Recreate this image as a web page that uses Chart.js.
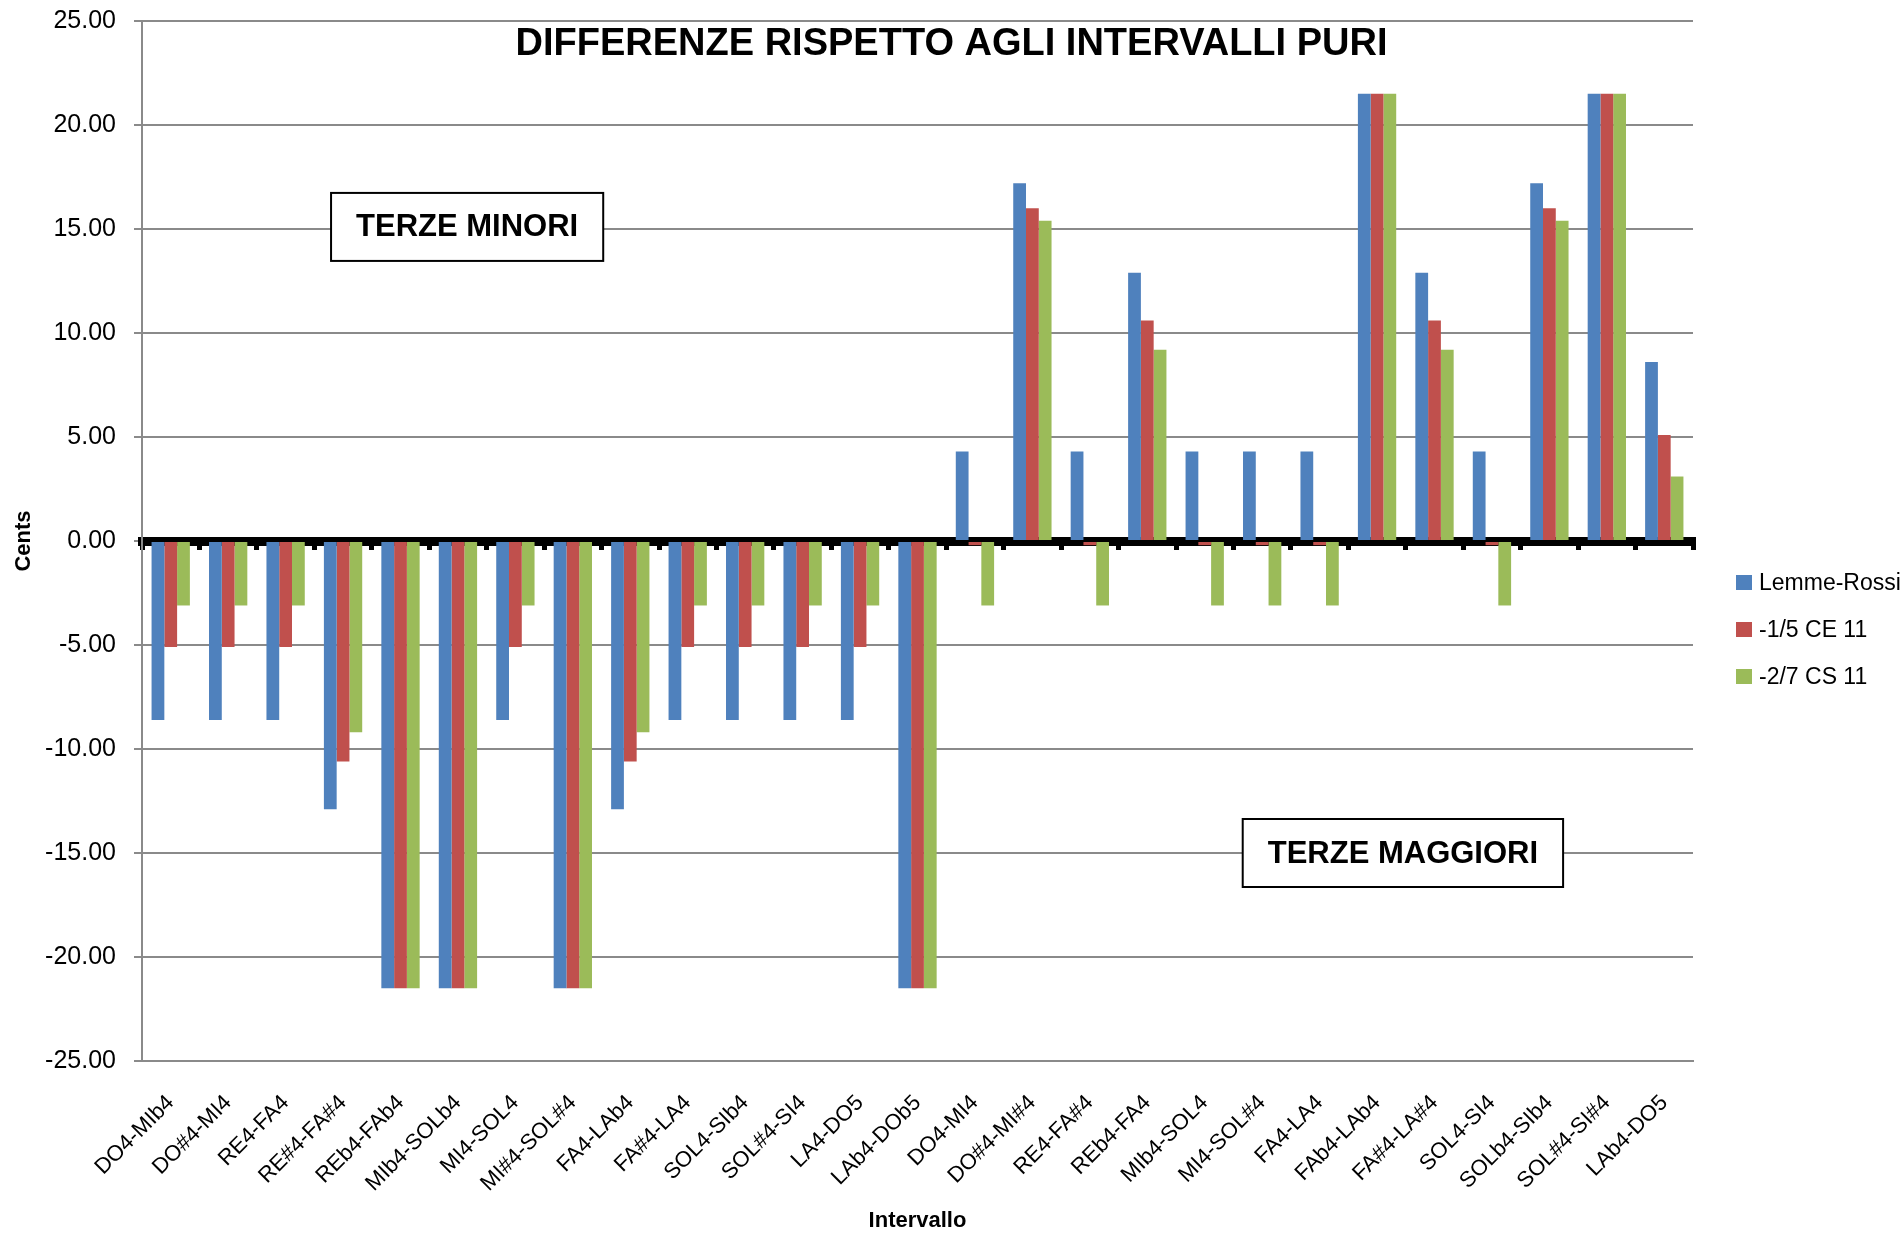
<!DOCTYPE html>
<html>
<head>
<meta charset="utf-8">
<script src="https://cdn.jsdelivr.net/npm/chart.js@4.4.1/dist/chart.umd.min.js"></script>
<style>
  html, body { margin: 0; padding: 0; background: #fff; }
  #wrap { position: relative; width: 1903px; height: 1234px; overflow: hidden; }
  #legend { position: absolute; left: 1736px; top: 559px; font: 23px "Liberation Sans", Arial, sans-serif; color: #000; }
  #legend div { height: 47px; display: flex; align-items: center; white-space: nowrap; }
  #legend span.sw { display: inline-block; width: 16px; height: 15px; margin-right: 7px; }
</style>
</head>
<body>
<div id="wrap">
  <canvas id="chart" width="1903" height="1234"></canvas>
  <div id="legend"></div>
</div>
<script>
// chart data
const chartTitle = 'DIFFERENZE RISPETTO AGLI INTERVALLI PURI';
const intervals = [
  'DO4-MIb4', 'DO#4-MI4', 'RE4-FA4', 'RE#4-FA#4', 'REb4-FAb4', 'MIb4-SOLb4', 'MI4-SOL4',
  'MI#4-SOL#4', 'FA4-LAb4', 'FA#4-LA4', 'SOL4-SIb4', 'SOL#4-SI4', 'LA4-DO5', 'LAb4-DOb5',
  'DO4-MI4', 'DO#4-MI#4', 'RE4-FA#4', 'REb4-FA4', 'MIb4-SOL4', 'MI4-SOL#4', 'FA4-LA4',
  'FAb4-LAb4', 'FA#4-LA#4', 'SOL4-SI4', 'SOLb4-SIb4', 'SOL#4-SI#4', 'LAb4-DO5'
];
const seriesNames = ['Lemme-Rossi', '-1/5 CE 11', '-2/7 CS 11'];
const lemmeRossi = [
  -8.6, -8.6, -8.6, -12.9, -21.5, -21.5, -8.6, -21.5, -12.9, -8.6, -8.6, -8.6, -8.6, -21.5,
  4.3, 17.2, 4.3, 12.9, 4.3, 4.3, 4.3, 21.5, 12.9, 4.3, 17.2, 21.5, 8.6
];
const ce11 = [
  -5.1, -5.1, -5.1, -10.6, -21.5, -21.5, -5.1, -21.5, -10.6, -5.1, -5.1, -5.1, -5.1, -21.5,
  -0.2, 16.0, -0.2, 10.6, -0.2, -0.2, -0.2, 21.5, 10.6, -0.2, 16.0, 21.5, 5.1
];
const cs11 = [
  -3.1, -3.1, -3.1, -9.2, -21.5, -21.5, -3.1, -21.5, -9.2, -3.1, -3.1, -3.1, -3.1, -21.5,
  -3.1, 15.4, -3.1, 9.2, -3.1, -3.1, -3.1, 21.5, 9.2, -3.1, 15.4, 21.5, 3.1
];
const seriesColors = ['#4F81BD', '#C0504D', '#9BBB59'];
const groupLabels = ['TERZE MINORI', 'TERZE MAGGIORI'];

const FONT = '"Liberation Sans", Arial, sans-serif';
const GRID = '#8a8a8a';

// title and the two group boxes, drawn on top of the plot
const overlayText = {
  id: 'overlayText',
  afterDraw(chart) {
    const { ctx, scales: { x, y } } = chart;
    const step = x.getPixelForValue(1) - x.getPixelForValue(0);
    ctx.save();
    ctx.fillStyle = '#000';
    ctx.textAlign = 'center';

    ctx.font = 'bold 38px ' + FONT;
    ctx.textBaseline = 'alphabetic';
    ctx.fillText(chartTitle, chart.width / 2, 55);

    // where each box sits: category position and value
    const spots = [{ at: 5.16, value: 15.1 }, { at: 21.45, value: -15 }];
    ctx.font = 'bold 31px ' + FONT;
    ctx.textBaseline = 'middle';
    groupLabels.forEach((text, i) => {
      const cx = x.getPixelForValue(0) + spots[i].at * step;
      const cy = y.getPixelForValue(spots[i].value);
      const w = ctx.measureText(text).width + 50;
      const h = 68;
      ctx.fillStyle = '#fff';
      ctx.fillRect(cx - w / 2, cy - h / 2, w, h);
      ctx.strokeStyle = '#000';
      ctx.lineWidth = 2;
      ctx.strokeRect(cx - w / 2, cy - h / 2, w, h);
      ctx.fillStyle = '#000';
      ctx.fillText(text, cx, cy + 1);
    });
    ctx.restore();
  }
};

const ctx = document.getElementById('chart').getContext('2d');
const chart = new Chart(ctx, {
  type: 'bar',
  data: {
    labels: intervals,
    datasets: [lemmeRossi, ce11, cs11].map((values, i) => ({
      label: seriesNames[i],
      data: values,
      backgroundColor: seriesColors[i],
      borderWidth: 0,
      xAxisID: 'x',
      yAxisID: 'y',
      barPercentage: 1,
      categoryPercentage: 0.667
    }))
  },
  options: {
    responsive: false,
    animation: false,
    layout: { padding: { left: 0, right: 210, top: 21, bottom: 0 } },
    plugins: {
      legend: { display: false },
      title: { display: false },
      tooltip: { enabled: false }
    },
    scales: {
      x: {
        type: 'category',
        position: 'bottom',
        offset: true,
        grid: { display: false, drawTicks: false },
        border: { display: true, color: GRID, width: 2 },
        ticks: {
          autoSkip: false,
          minRotation: 45,
          maxRotation: 45,
          padding: 29,
          color: '#000',
          font: { family: FONT, size: 22 }
        },
        title: {
          display: true,
          text: 'Intervallo',
          color: '#000',
          font: { family: FONT, size: 22, weight: 'bold' },
          padding: { top: 0, bottom: 0 }
        },
        afterFit: s => { s.height = 173; }
      },
      // the x axis crossing at zero: thick black line with tick marks
      xZero: {
        type: 'category',
        labels: intervals,
        position: { y: 0 },
        offset: true,
        z: 1,
        grid: { drawOnChartArea: false, offset: true, color: '#000', lineWidth: 5, tickLength: 4, tickWidth: 5 },
        border: { display: true, color: '#000', width: 9 },
        ticks: { display: false }
      },
      y: {
        min: -25,
        max: 25,
        ticks: {
          stepSize: 5,
          padding: 18,
          color: '#000',
          font: { family: FONT, size: 25 },
          callback: v => v.toFixed(2)
        },
        grid: { color: GRID, lineWidth: 2, tickLength: 8, tickColor: GRID },
        border: { display: true, color: GRID, width: 2 },
        title: {
          display: true,
          text: 'Cents',
          color: '#000',
          font: { family: FONT, size: 22, weight: 'bold' },
          padding: { top: 11, bottom: 0 }
        },
        afterFit: s => {
          s.width = 142;
          s.paddingTop = 0;
          s.paddingBottom = 0;
        }
      }
    }
  },
  plugins: [overlayText]
});

// legend, built from the datasets
const legendBox = document.getElementById('legend');
chart.data.datasets.forEach(ds => {
  const row = document.createElement('div');
  const sw = document.createElement('span');
  sw.className = 'sw';
  sw.style.background = ds.backgroundColor;
  row.appendChild(sw);
  row.appendChild(document.createTextNode(ds.label));
  legendBox.appendChild(row);
});
</script>
</body>
</html>
